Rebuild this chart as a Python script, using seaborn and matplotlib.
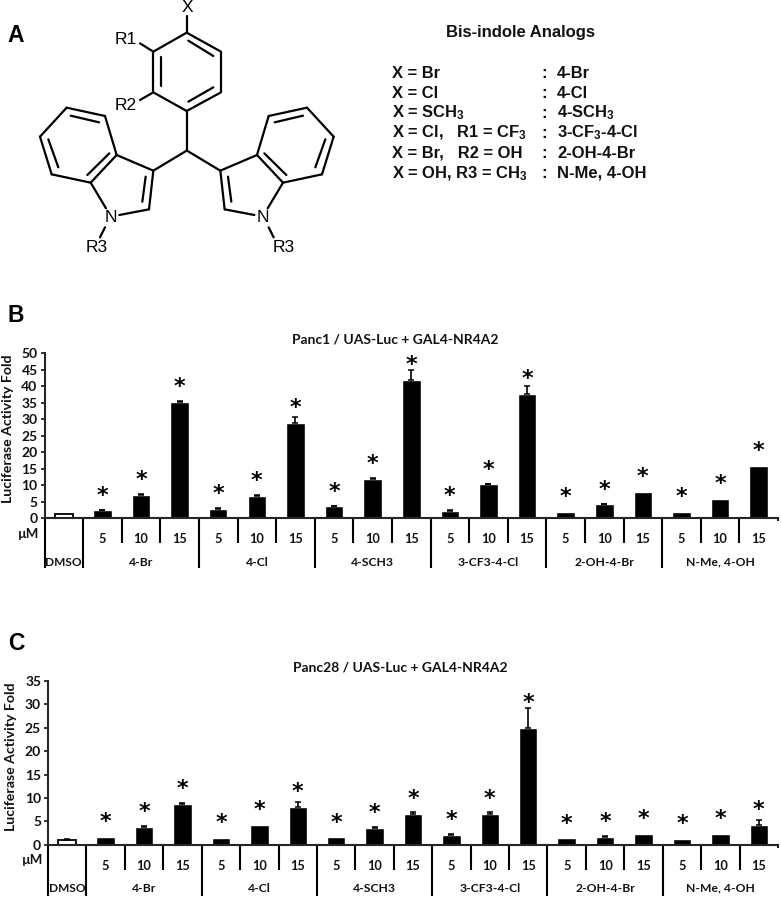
import matplotlib
matplotlib.use("Agg")
import matplotlib.pyplot as plt
import pandas as pd
import seaborn as sns

# Compounds and doses shared by panels B and C
compounds = ["4-Br", "4-Cl", "4-SCH3", "3-CF3-4-Cl", "2-OH-4-Br", "N-Me, 4-OH"]
doses = ["5", "10", "15"]

# Panel B, Panc1
values_b = [1.2, 2.3, 7.1, 35.3, 2.7, 6.8, 28.9, 3.5, 11.9, 42.0,
            2.2, 10.2, 37.7, 1.8, 4.1, 8.0, 1.8, 5.8, 15.9]
errors_b = [0, 0.2, 0.1, 0.2, 0.3, 0.2, 1.7, 0.1, 0.2, 3.0,
            0.1, 0.1, 2.3, 0, 0.1, 0, 0, 0, 0]
ticks_b = [0, 5, 10, 15, 20, 25, 30, 35, 40, 45, 50]

# Panel C, Panc28
values_c = [1.1, 1.7, 3.8, 8.7, 1.4, 4.3, 8.1, 1.6, 3.6, 6.6,
            2.1, 6.6, 25.0, 1.35, 1.7, 2.3, 1.2, 2.35, 4.2]
errors_c = [0.1, 0, 0.2, 0.2, 0, 0, 1.0, 0, 0.2, 0.4,
            0.1, 0.4, 4.3, 0, 0.1, 0, 0, 0, 1.1]
ticks_c = [0, 5, 10, 15, 20, 25, 30, 35]

# Panel A, analog list
analog_rows = ["X = Br", "X = Cl", "X = SCH$_3$", "X = Cl,   R1 = CF$_3$",
               "X = Br,   R2 = OH", "X = OH, R3 = CH$_3$"]
analog_names = ["4-Br", "4-Cl", "4-SCH$_3$", "3-CF$_3$-4-Cl", "2-OH-4-Br", "N-Me, 4-OH"]

center_bonds = [
    ((560, 98), (663, 155)), ((663, 155), (663, 277)), ((663, 277), (560, 333)),
    ((560, 333), (460, 277)), ((460, 277), (460, 155)), ((460, 155), (560, 98)),
    ((560, 98), (560, 48)), ((460, 155), (420, 130)), ((460, 277), (420, 300)),
    ((565, 122), (640, 168)), ((640, 262), (565, 305)), ((482, 170), (482, 258)),
    ((560, 333), (560, 452)),
]
indole_bonds = [
    ((560, 452), (460, 512)), ((460, 512), (447, 628)), ((447, 628), (358, 645)),
    ((460, 512), (350, 465)), ((350, 465), (272, 548)), ((272, 548), (318, 625)),
    ((350, 465), (315, 348)), ((315, 348), (200, 323)), ((200, 323), (120, 410)),
    ((120, 410), (155, 523)), ((155, 523), (272, 548)),
    ((297, 367), (212, 347)), ((145, 418), (175, 502)), ((262, 525), (328, 460)),
    ((437, 530), (427, 605)), ((315, 682), (300, 712)),
]

FIG_W, FIG_H = 781, 900
TEXT_FONT = "Lato"
CHEM_FONT = "Liberation Sans"
INK = "#111111"

sns.set_style("ticks")
plt.rcParams["font.family"] = [TEXT_FONT, "DejaVu Sans"]
plt.rcParams["mathtext.fontset"] = "custom"
plt.rcParams["mathtext.rm"] = "Liberation Sans:bold"
plt.rcParams["mathtext.default"] = "rm"


def draw_panel(fig, values, errors, ticks, ymax, box, title, title_xy,
               ylabel_xy, um_xy, dose_pad, group_y, short_px, long_px):
    left, right, top, bottom = box
    ax = fig.add_axes([left / FIG_W, 1 - bottom / FIG_H,
                       (right - left) / FIG_W, (bottom - top) / FIG_H])

    samples = ["DMSO"] + [f"{c} {d}" for c in compounds for d in doses]
    df = pd.DataFrame({"sample": samples, "fold": values})
    sns.barplot(data=df, x="sample", y="fold", order=samples, color="black",
                saturation=1, width=0.48, errorbar=None, ax=ax)

    # DMSO control is the only open bar
    ax.patches[0].set_facecolor("white")
    ax.patches[0].set_edgecolor("black")
    ax.patches[0].set_linewidth(1.3)

    # Flat bars have no visible error bar in the figure
    has_err = [i for i in range(len(samples)) if errors[i] > 0]
    ax.errorbar(has_err, [values[i] for i in has_err],
                yerr=[[0] * len(has_err), [errors[i] for i in has_err]],
                fmt="none", ecolor="black", elinewidth=1.2, capsize=2.2, capthick=1.1)

    ax.set_xlim(-0.5, len(samples) - 0.5)
    ax.set_ylim(0, ymax)
    ax.set_yticks(ticks)
    ax.set_xticks(range(len(samples)))
    ax.set_xticklabels([""] + doses * len(compounds))
    ax.set_xlabel("")
    ax.set_ylabel("")
    sns.despine(ax=ax)
    for side in ["left", "bottom"]:
        ax.spines[side].set_linewidth(1.5)
    ax.tick_params(axis="y", length=3, width=1.3, pad=2, labelsize=10)
    ax.tick_params(axis="x", length=0, pad=dose_pad, labelsize=9.2)
    for lab in ax.get_yticklabels() + ax.get_xticklabels():
        lab.set_fontweight("bold")
        lab.set_color(INK)

    # Significance stars sit a fixed distance over the bar, or clear of a long error bar
    px_per_unit = (bottom - top) / ymax
    for i in range(1, len(samples)):
        gap = max(20, errors[i] * px_per_unit + 10)
        ax.annotate("*", xy=(i, values[i]), xytext=(0, (gap - 11.3) * 0.72),
                    textcoords="offset points", ha="center", va="baseline",
                    fontsize=16, fontweight="bold", family="DejaVu Sans", color="black")

    # Separators below the axis
    height = bottom - top
    trans = ax.get_xaxis_transform()
    for i in range(len(samples)):
        edge = i - 0.5
        is_group = (i - 1) % 3 == 0 or i == 0
        depth = long_px if is_group else short_px
        ax.plot([edge, edge], [0, -depth / height], transform=trans, color="black",
                lw=1.5, clip_on=False, solid_capstyle="butt")
    ax.plot([len(samples) - 0.5] * 2, [0, -3 / height], transform=trans, color="black",
            lw=1.3, clip_on=False, solid_capstyle="butt")

    # Group labels
    ax.text(0, -(group_y - bottom) / height, "DMSO", transform=trans, ha="center",
            va="center", fontsize=8.6, fontweight="bold", color=INK)
    for j, name in enumerate(compounds):
        ax.text(2 + 3 * j, -(group_y - bottom) / height, name, transform=trans,
                ha="center", va="center", fontsize=8.7, fontweight="bold", color=INK)

    fig.text(title_xy[0] / FIG_W, 1 - title_xy[1] / FIG_H, title, ha="center",
             va="center", fontsize=10, fontweight="bold", color=INK)
    fig.text(ylabel_xy[0] / FIG_W, 1 - ylabel_xy[1] / FIG_H, "Luciferase Activity Fold",
             rotation=90, ha="center", va="center", fontsize=10.2, fontweight="bold",
             color=INK)
    fig.text(um_xy[0] / FIG_W, 1 - um_xy[1] / FIG_H, "\u00b5M", ha="center", va="center",
             fontsize=9.5, fontweight="bold", color=INK)
    return ax


def draw_structure(fig):
    over = fig.add_axes([0, 0, 1, 1], facecolor="none")
    over.set_xlim(0, FIG_W)
    over.set_ylim(FIG_H, 0)
    over.axis("off")

    def bond(a, b):
        over.plot([a[0] / 3, b[0] / 3], [a[1] / 3, b[1] / 3], color="black", lw=1.6,
                  solid_capstyle="round")

    for a, b in center_bonds:
        bond(a, b)
    # Second indole is the mirror image of the first
    for a, b in indole_bonds:
        bond(a, b)
        bond((1121 - a[0], a[1]), (1121 - b[0], b[1]))

    for s, x, y in [("X", 187, 8), ("R1", 126, 39), ("R2", 126, 106), ("N", 111, 218),
                    ("R3", 97, 248), ("N", 263, 218), ("R3", 284, 248)]:
        over.text(x, y, s, ha="center", va="center", fontsize=12.5, family=CHEM_FONT,
                  color="black")

    for s, x, y in [("A", 16, 36), ("B", 16, 315), ("C", 16, 643)]:
        over.text(x, y, s, ha="center", va="center", fontsize=16.5, fontweight="bold",
                  family=CHEM_FONT, color="black")

    over.text(521, 32, "Bis-indole Analogs", ha="center", va="center", fontsize=12,
              fontweight="bold", family=CHEM_FONT, color=INK)
    for i, (row, name) in enumerate(zip(analog_rows, analog_names)):
        y = 77.5 + i * 20.1
        over.text(392, y, row, ha="left", va="baseline", fontsize=11.9, fontweight="bold",
                  family=CHEM_FONT, color=INK)
        over.text(544, y, ":", ha="center", va="baseline", fontsize=11.9, fontweight="bold",
                  family=CHEM_FONT, color=INK)
        over.text(557, y, name, ha="left", va="baseline", fontsize=11.9, fontweight="bold",
                  family=CHEM_FONT, color=INK)


fig = plt.figure(figsize=(FIG_W / 100, FIG_H / 100), dpi=100)

draw_panel(fig, values_b, errors_b, ticks_b, 50, (44.5, 778, 353.3, 518),
           "Panc1 / UAS-Luc + GAL4-NR4A2", (395, 339), (8, 429), (29, 534),
           dose_pad=11, group_y=562, short_px=25, long_px=50)
draw_panel(fig, values_c, errors_c, ticks_c, 35, (48, 778, 681, 844.7),
           "Panc28 / UAS-Luc + GAL4-NR4A2", (400, 667), (11, 757), (33, 860),
           dose_pad=11, group_y=888, short_px=25, long_px=51)
draw_structure(fig)

fig.savefig("out.png", dpi=100, facecolor="white")
